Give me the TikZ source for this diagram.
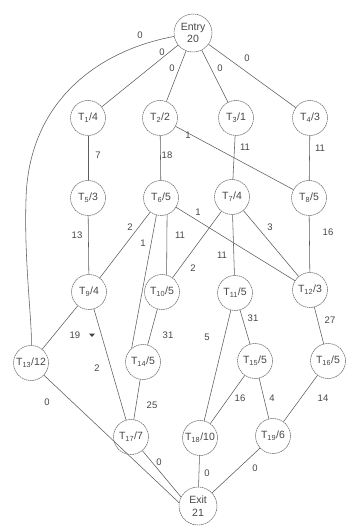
\documentclass[tikz,border=0pt]{standalone}
\usepackage{fontspec}
\setmainfont{Liberation Sans}
\definecolor{ink}{HTML}{474747}
\definecolor{wire}{HTML}{5C5C5C}
\begin{document}
\begin{tikzpicture}[x=1pt,y=1pt,
  task/.style={circle, draw=wire, line width=0.5pt, dash pattern=on 1.6pt off 0.6pt,
    minimum size=35pt, inner sep=0pt, text=ink, font=\fontsize{10.5}{11}\selectfont},
  term/.style={task, minimum size=38pt, align=center, font=\fontsize{10.5}{12.5}\selectfont},
  wt/.style={inner sep=0pt, text=ink, font=\fontsize{9.5}{10}\selectfont},
  edge/.style={draw=wire, line width=0.55pt}]
\useasboundingbox (0,0) rectangle (348,-529);
\fill[white] (0,0) rectangle (348,-529);

% tasks
\node[term] (entry) at (193,-33) {Entry\\20};
\node[task] (t1)  at (88,-118)  {T\textsubscript{1}/4};
\node[task] (t2)  at (160,-118) {T\textsubscript{2}/2};
\node[task] (t3)  at (236,-118) {T\textsubscript{3}/1};
\node[task] (t4)  at (310,-118) {T\textsubscript{4}/3};
\node[task] (t5)  at (88,-198)  {T\textsubscript{5}/3};
\node[task] (t6)  at (161,-198) {T\textsubscript{6}/5};
\node[task] (t7)  at (232,-197) {T\textsubscript{7}/4};
\node[task] (t8)  at (309,-198) {T\textsubscript{8}/5};
\node[task] (t9)  at (89,-292)  {T\textsubscript{9}/4};
\node[task] (t10) at (162,-292) {T\textsubscript{10}/5};
\node[task] (t11) at (235,-293) {T\textsubscript{11}/5};
\node[task] (t12) at (310,-290) {T\textsubscript{12}/3};
\node[task] (t13) at (31,-363)  {T\textsubscript{13}/12};
\node[task] (t14) at (143,-362) {T\textsubscript{14}/5};
\node[task] (t15) at (255,-361) {T\textsubscript{15}/5};
\node[task] (t16) at (328,-361) {T\textsubscript{16}/5};
\node[task] (t17) at (131,-437) {T\textsubscript{17}/7};
\node[task] (t18) at (200,-438) {T\textsubscript{18}/10};
\node[task] (t19) at (273,-436) {T\textsubscript{19}/6};
\node[term] (exit) at (198,-506) {Exit\\21};

% dependencies
\draw[edge] (entry) .. controls (100,-50) and (28,-100) .. (26,-200)
                    .. controls (24,-260) and (32,-320) .. (t13);
\draw[edge] (entry) -- (t1);
\draw[edge] (entry) -- (t2);
\draw[edge] (entry) -- (t3);
\draw[edge] (entry) -- (t4);
\draw[edge] (t1) -- (t5);
\draw[edge] (t2) -- (t6);
\draw[edge] (t2) -- (t8);
\draw[edge] (t3) -- (t7);
\draw[edge] (t4) -- (t8);
\draw[edge] (t5) -- (t9);
\draw[edge] (t6) -- (t9);
\draw[edge] (t6.255) -- (t14.130);
\draw[edge] (t6.290) -- (t10.75);
\draw[edge] (t6) -- (t12);
\draw[edge] (t7) -- (t10);
\draw[edge] (t7) -- (t11);
\draw[edge] (t7) -- (t12);
\draw[edge] (t8) -- (t12);
\draw[edge] (t9) -- (t13);
\draw[edge] (t9) -- (t17);
\draw[edge] (t10) -- (t14);
\draw[edge] (t11) -- (t18);
\draw[edge] (t11) -- (t15);
\draw[edge] (t12) -- (t16);
\draw[edge] (t14) -- (t17);
\draw[edge] (t15) -- (t18);
\draw[edge] (t15) -- (t19);
\draw[edge] (t16) -- (t19);
\draw[edge] (t13) -- (exit.170);
\draw[edge] (t17) -- (exit.152);
\draw[edge] (t18) -- (exit);
\draw[edge] (t19) -- (exit);

% weights
\node[wt] (w0a) at (140,-35)  {0};
\node[wt] (w0b) at (162,-52)  {0};
\node[wt] (w0c) at (172,-68)  {0};
\node[wt] (w0d) at (220,-68)  {0};
\node[wt] (w0e) at (247,-58)  {0};
\node[wt] (w15) at (98,-155)  {7};
\node[wt] (w26) at (167,-155) {18};
\node[wt] (w28) at (188,-135) {1};
\node[wt] (w37) at (245,-147) {11};
\node[wt] (w48) at (320,-148) {11};
\node[wt] (w59) at (77,-235)  {13};
\node[wt] (w69) at (130,-227) {2};
\node[wt] (w612) at (198,-212) {1};
\node[wt] (w614) at (143,-243) {1};
\node[wt] (w610) at (180,-235) {11};
\node[wt] (w712) at (270,-227) {3};
\node[wt] (w812) at (328,-232) {16};
\node[wt] (w711) at (222,-255) {11};
\node[wt] (w710) at (193,-268) {2};
\node[wt] (w913) at (75,-335)  {19};
\node[wt] (w1014) at (168,-335) {31};
\node[wt] (w1118) at (207,-337) {5};
\node[wt] (w1115) at (253,-318) {31};
\node[wt] (w1216) at (330,-320) {27};
\node[wt] (w917) at (97,-368)  {2};
\node[wt] (w13x) at (47,-402)  {0};
\node[wt] (w1417) at (152,-405) {25};
\node[wt] (w1518) at (240,-398) {16};
\node[wt] (w1519) at (272,-398) {4};
\node[wt] (w1619) at (323,-398) {14};
\node[wt] (w17x) at (159,-462) {0};
\node[wt] (w18x) at (207,-473) {0};
\node[wt] (w19x) at (255,-468) {0};

% small dark mark beside the weight 19
\fill[black!75] (89,-333.5) -- (95,-333.5) -- (92,-337) -- cycle;
\end{tikzpicture}
\end{document}
